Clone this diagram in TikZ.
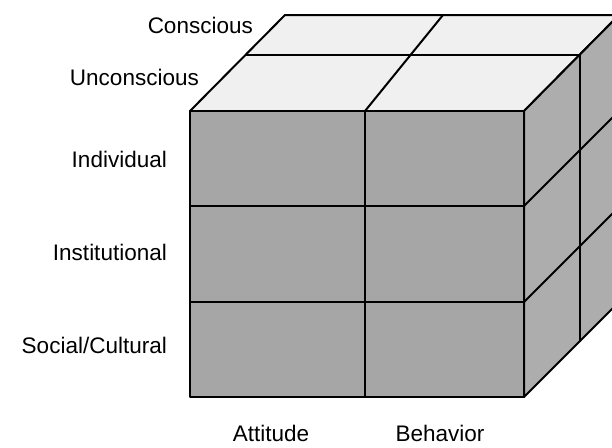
\documentclass[tikz,border=0pt]{standalone}
\usepackage{fontspec}
\setmainfont{Liberation Sans}
\tikzset{
    cubeface/.style={draw=black, line width=2pt, line join=round},
    cubeline/.style={draw=black, line width=2pt, line cap=round},
    dimlabel/.style={font=\fontsize{22.5}{26}\selectfont, inner sep=0pt}
}

\begin{document}
\begin{tikzpicture}[x=1pt, y=-1pt]
\useasboundingbox (0,0) rectangle (612,447);
\clip (0,0) rectangle (612,447);

% corners of the cube (back right edge runs off the page)
\coordinate (ftl) at (190,111);
\coordinate (ftr) at (524,111);
\coordinate (fbr) at (524,397);
\coordinate (fbl) at (190,397);
\coordinate (btl) at (285,15);
\coordinate (btr) at (619,15);
\coordinate (bbr) at (619,302);

% faces
\path[cubeface, fill=black!6] (ftl) -- (ftr) -- (btr) -- (btl) -- cycle;
\path[cubeface, fill=black!32] (ftr) -- (btr) -- (bbr) -- (fbr) -- cycle;
\path[cubeface, fill=black!35] (ftl) rectangle (fbr);

% front grid
\draw[cubeline] (365,111) -- (365,397);
\foreach \y in {206,302}
    \draw[cubeline] (190,\y) -- (524,\y);

% top grid
\draw[cubeline] (246,55) -- (580,55);
\draw[cubeline] (365,111) -- (443,15);

% side grid
\draw[cubeline] (580,55) -- (580,341);
\foreach \y in {206,302}
    \draw[cubeline] (524,\y) -- ++(95,-95);

% labels
\node[dimlabel, anchor=base east] (conscious) at (253,33) {Conscious};
\node[dimlabel, anchor=base east] (unconscious) at (199,85) {Unconscious};
\node[dimlabel, anchor=base east] (individual) at (167,167) {Individual};
\node[dimlabel, anchor=base east] (institutional) at (167,260) {Institutional};
\node[dimlabel, anchor=base east] (social) at (167,353) {Social/Cultural};
\node[dimlabel, anchor=base] (attitude) at (271,441) {Attitude};
\node[dimlabel, anchor=base] (behavior) at (440,441) {Behavior};
\end{tikzpicture}
\end{document}
